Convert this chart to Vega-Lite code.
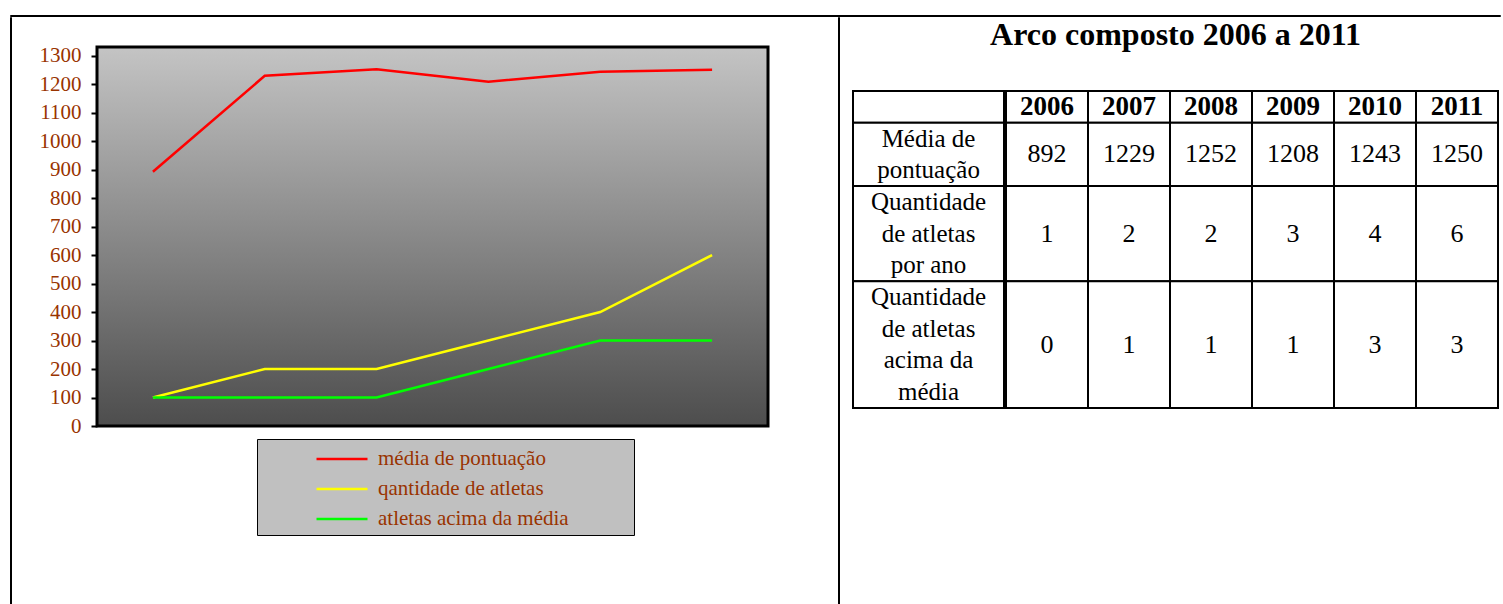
{
  "$schema": "https://vega.github.io/schema/vega-lite/v6.json",
  "padding": {"left": 9, "top": 14, "right": 0, "bottom": 0},
  "background": "white",
  "config": {"font": "Liberation Serif", "view": {"stroke": null}},
  "datasets": {
    "series": [
      {"ano": 2006, "serie": "média de pontuação", "valor": 892},
      {"ano": 2007, "serie": "média de pontuação", "valor": 1229},
      {"ano": 2008, "serie": "média de pontuação", "valor": 1252},
      {"ano": 2009, "serie": "média de pontuação", "valor": 1208},
      {"ano": 2010, "serie": "média de pontuação", "valor": 1243},
      {"ano": 2011, "serie": "média de pontuação", "valor": 1250},
      {"ano": 2006, "serie": "qantidade de atletas", "valor": 100},
      {"ano": 2007, "serie": "qantidade de atletas", "valor": 200},
      {"ano": 2008, "serie": "qantidade de atletas", "valor": 200},
      {"ano": 2009, "serie": "qantidade de atletas", "valor": 300},
      {"ano": 2010, "serie": "qantidade de atletas", "valor": 400},
      {"ano": 2011, "serie": "qantidade de atletas", "valor": 600},
      {"ano": 2006, "serie": "atletas acima da média", "valor": 100},
      {"ano": 2007, "serie": "atletas acima da média", "valor": 100},
      {"ano": 2008, "serie": "atletas acima da média", "valor": 100},
      {"ano": 2009, "serie": "atletas acima da média", "valor": 200},
      {"ano": 2010, "serie": "atletas acima da média", "valor": 300},
      {"ano": 2011, "serie": "atletas acima da média", "valor": 300}
    ],
    "linhas": [
      {"ordem": 0, "coluna": "rótulo", "rotulo": "", "linhas": 1},
      {"ordem": 1, "coluna": "rótulo", "rotulo": "Média de\npontuação", "linhas": 2},
      {"ordem": 2, "coluna": "rótulo", "rotulo": "Quantidade\nde atletas\npor ano", "linhas": 3},
      {"ordem": 3, "coluna": "rótulo", "rotulo": "Quantidade\nde atletas\nacima da\nmédia", "linhas": 4}
    ],
    "celulas": [
      {"ordem": 0, "ano": "2006", "texto": "2006", "linhas": 1},
      {"ordem": 0, "ano": "2007", "texto": "2007", "linhas": 1},
      {"ordem": 0, "ano": "2008", "texto": "2008", "linhas": 1},
      {"ordem": 0, "ano": "2009", "texto": "2009", "linhas": 1},
      {"ordem": 0, "ano": "2010", "texto": "2010", "linhas": 1},
      {"ordem": 0, "ano": "2011", "texto": "2011", "linhas": 1},
      {"ordem": 1, "ano": "2006", "texto": "892", "linhas": 2},
      {"ordem": 1, "ano": "2007", "texto": "1229", "linhas": 2},
      {"ordem": 1, "ano": "2008", "texto": "1252", "linhas": 2},
      {"ordem": 1, "ano": "2009", "texto": "1208", "linhas": 2},
      {"ordem": 1, "ano": "2010", "texto": "1243", "linhas": 2},
      {"ordem": 1, "ano": "2011", "texto": "1250", "linhas": 2},
      {"ordem": 2, "ano": "2006", "texto": "1", "linhas": 3},
      {"ordem": 2, "ano": "2007", "texto": "2", "linhas": 3},
      {"ordem": 2, "ano": "2008", "texto": "2", "linhas": 3},
      {"ordem": 2, "ano": "2009", "texto": "3", "linhas": 3},
      {"ordem": 2, "ano": "2010", "texto": "4", "linhas": 3},
      {"ordem": 2, "ano": "2011", "texto": "6", "linhas": 3},
      {"ordem": 3, "ano": "2006", "texto": "0", "linhas": 4},
      {"ordem": 3, "ano": "2007", "texto": "1", "linhas": 4},
      {"ordem": 3, "ano": "2008", "texto": "1", "linhas": 4},
      {"ordem": 3, "ano": "2009", "texto": "1", "linhas": 4},
      {"ordem": 3, "ano": "2010", "texto": "3", "linhas": 4},
      {"ordem": 3, "ano": "2011", "texto": "3", "linhas": 4}
    ]
  },
  "spacing": -1,
  "vconcat": [
    {
      "width": 1490, "height": 1,
      "data": {"values": []},
      "mark": {"type": "point", "opacity": 0},
      "view": {"stroke": "black", "strokeWidth": 1}
    },
    {
      "spacing": 25,
      "hconcat": [
        {
          "width": 1, "height": 587,
          "data": {"values": []},
          "mark": {"type": "point", "opacity": 0},
          "view": {"stroke": "black", "strokeWidth": 1}
        },
        {
          "spacing": 67,
          "hconcat": [
            {
              "spacing": 25,
              "vconcat": [
                {
                  "width": 1, "height": 1,
                  "data": {"values": []},
                  "mark": {"type": "point", "opacity": 0},
                  "view": {"fill": "white"}
                },
                {
                  "width": 671, "height": 379,
                  "data": {"name": "series"},
                  "mark": {"type": "line", "strokeWidth": 2.5},
                  "view": {
                    "fill": {"gradient": "linear", "x1": 0, "y1": 0, "x2": 0, "y2": 1,
                      "stops": [{"offset": 0, "color": "#c4c4c4"}, {"offset": 1, "color": "#4d4d4d"}]},
                    "stroke": "black", "strokeWidth": 3
                  },
                  "encoding": {
                    "x": {"field": "ano", "type": "ordinal", "scale": {"type": "point", "padding": 0.5}, "axis": null},
                    "y": {"field": "valor", "type": "quantitative",
                      "scale": {"domain": [0, 1330], "nice": false},
                      "axis": {"title": null, "grid": false, "domain": false, "format": "d",
                        "values": [0, 100, 200, 300, 400, 500, 600, 700, 800, 900, 1000, 1100, 1200, 1300],
                        "tickColor": "black", "tickSize": 6, "tickWidth": 2,
                        "labelColor": "#993300", "labelFont": "Liberation Serif", "labelFontSize": 21, "labelPadding": 10}},
                    "color": {"field": "serie", "type": "nominal",
                      "scale": {"domain": ["média de pontuação", "qantidade de atletas", "atletas acima da média"],
                        "range": ["#ff0000", "#ffff00", "#00ff00"]},
                      "legend": {"orient": "none", "legendX": 247, "legendY": 424, "direction": "vertical",
                        "title": " ", "titleOrient": "right", "titlePadding": 59,
                        "fillColor": "#c0c0c0", "strokeColor": "black", "padding": 6,
                        "symbolType": "M-2,0H2", "symbolSize": 650, "symbolStrokeWidth": 2.5, "symbolOffset": 65,
                        "labelOffset": 22, "labelFont": "Liberation Serif", "labelFontSize": 21, "labelColor": "#993300",
                        "labelLimit": 400, "rowPadding": 6}}
                  }
                }
              ]
            },
            {
              "spacing": 12,
              "hconcat": [
                {
                  "width": 1, "height": 587,
                  "data": {"values": []},
                  "mark": {"type": "point", "opacity": 0},
                  "view": {"stroke": "black", "strokeWidth": 1}
                },
                {
                  "spacing": 1,
                  "vconcat": [
                    {
                      "width": 1, "height": 1,
                      "data": {"values": []},
                      "mark": {"type": "point", "opacity": 0},
                      "view": {"fill": "white"}
                    },
                    {
                      "title": {"text": "Arco composto 2006 a 2011", "fontSize": 32, "font": "Liberation Serif", "fontWeight": "bold", "anchor": "middle", "color": "black", "offset": 38},
                      "spacing": 0,
                      "hconcat": [
                        {
                          "width": 151, "height": 317,
                          "data": {"name": "linhas"},
                          "encoding": {
                            "x": {"field": "coluna", "type": "nominal", "scale": {"paddingInner": 0, "paddingOuter": 0}, "axis": null},
                            "order": {"field": "ordem"}
                          },
                          "layer": [
                            {
                              "mark": {"type": "bar", "fill": "white", "stroke": "black", "strokeWidth": 2},
                              "encoding": {
                                "y": {"field": "linhas", "type": "quantitative", "stack": "zero", "scale": {"domain": [0, 10], "nice": false, "reverse": true}, "axis": null}
                              }
                            },
                            {
                              "mark": {"type": "text", "font": "Liberation Serif", "fontSize": 25, "lineBreak": "\n", "lineHeight": 31.7, "baseline": "middle", "dy": 15.85, "color": "black"},
                              "encoding": {
                                "y": {"field": "linhas", "type": "quantitative", "stack": "zero", "bandPosition": 0, "scale": {"domain": [0, 10], "nice": false, "reverse": true}, "axis": null},
                                "text": {"field": "rotulo"}
                              }
                            }
                          ]
                        },
                        {
                          "width": 492, "height": 317,
                          "data": {"name": "celulas"},
                          "encoding": {
                            "x": {"field": "ano", "type": "nominal", "scale": {"paddingInner": 0, "paddingOuter": 0}, "axis": null},
                            "order": {"field": "ordem"}
                          },
                          "layer": [
                            {
                              "mark": {"type": "bar", "fill": "white", "stroke": "black", "strokeWidth": 2},
                              "encoding": {
                                "y": {"field": "linhas", "type": "quantitative", "stack": "zero", "scale": {"domain": [0, 10], "nice": false, "reverse": true}, "axis": null}
                              }
                            },
                            {
                              "mark": {"type": "text", "font": "Liberation Serif", "fontSize": 26, "baseline": "middle", "color": "black"},
                              "encoding": {
                                "y": {"field": "linhas", "type": "quantitative", "stack": "zero", "bandPosition": 0.5, "scale": {"domain": [0, 10], "nice": false, "reverse": true}, "axis": null},
                                "text": {"condition": {"test": "datum.ordem == 0", "value": ""}, "field": "texto"}
                              }
                            },
                            {
                              "mark": {"type": "text", "font": "Liberation Serif", "fontSize": 27, "fontWeight": "bold", "baseline": "middle", "color": "black"},
                              "encoding": {
                                "y": {"field": "linhas", "type": "quantitative", "stack": "zero", "bandPosition": 0.5, "scale": {"domain": [0, 10], "nice": false, "reverse": true}, "axis": null},
                                "text": {"condition": {"test": "datum.ordem > 0", "value": ""}, "field": "texto"}
                              }
                            }
                          ]
                        }
                      ]
                    }
                  ]
                }
              ]
            }
          ]
        }
      ]
    }
  ]
}
